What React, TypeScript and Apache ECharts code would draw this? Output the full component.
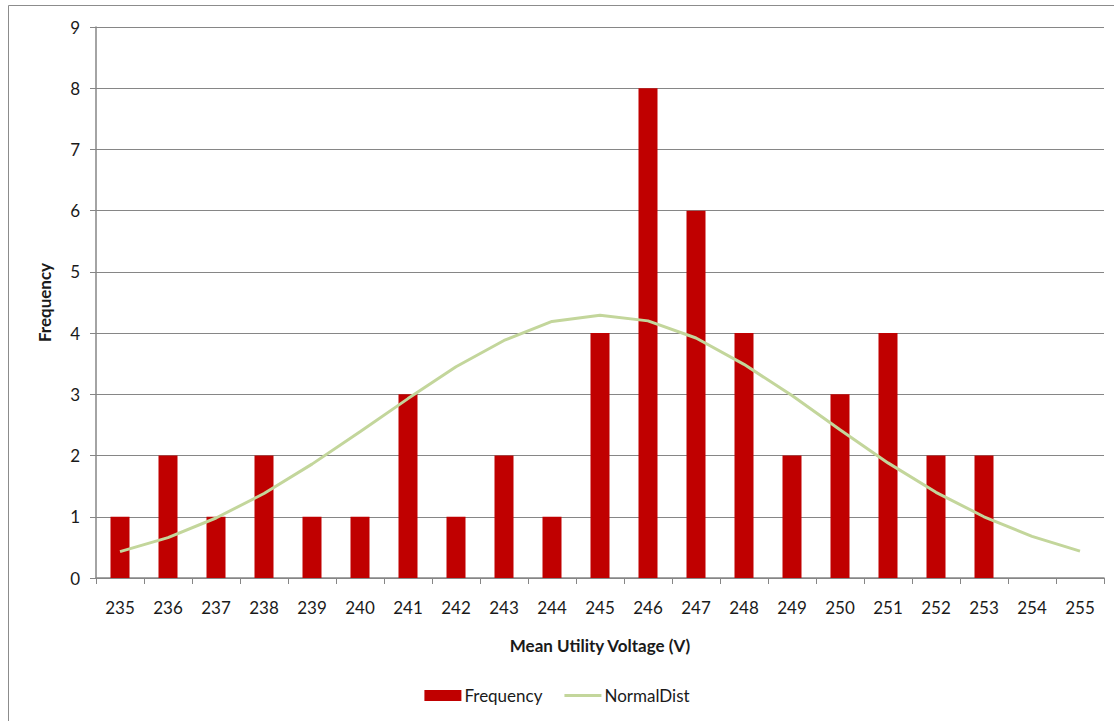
import React, { useEffect, useRef } from "react";
import * as echarts from "echarts";

const categories = ["235","236","237","238","239","240","241","242","243","244","245","246","247","248","249","250","251","252","253","254","255"];
const frequency = [1, 2, 1, 2, 1, 1, 3, 1, 2, 1, 4, 8, 6, 4, 2, 3, 4, 2, 2, 0, 0];
const normalDist = [0.43, 0.66, 0.98, 1.38, 1.86, 2.39, 2.93, 3.45, 3.88, 4.19, 4.29, 4.2, 3.92, 3.49, 2.98, 2.42, 1.88, 1.4, 1.0, 0.68, 0.44];
const yTicks = [0, 1, 2, 3, 4, 5, 6, 7, 8, 9];

const FONT = "Lato, 'Open Sans', sans-serif";

export default function App() {
  const ref = useRef<HTMLDivElement>(null);
  useEffect(() => {
    document.body.style.margin = "0";
    const chart = echarts.init(ref.current!, null, { renderer: "svg" });
    chart.setOption({
      animation: false,
      backgroundColor: "#ffffff",
      textStyle: { fontFamily: FONT },
      graphic: [
        {
          type: "rect",
          shape: { x: 8.5, y: 5.5, width: 1120, height: 730 },
          style: { fill: "none", stroke: "#8c8c8c", lineWidth: 1 },
          silent: true,
        },
      ],
      grid: { left: 96, right: 10, top: 27, bottom: 143 },
      legend: {
        bottom: 12,
        left: "center",
        itemGap: 22,
        itemWidth: 37,
        itemHeight: 11,
        textStyle: { fontSize: 17, color: "#1a1a1a", fontFamily: FONT, padding: [0, 0, 0, -2] },
        data: [
          { name: "Frequency", icon: "rect" },
          { name: "NormalDist", icon: "path://M0,0 L38,0 L38,3 L0,3 Z" },
        ],
      },
      xAxis: {
        type: "category",
        data: categories,
        name: "Mean Utility Voltage (V)",
        nameLocation: "middle",
        nameGap: 59,
        nameTextStyle: { fontSize: 17, fontWeight: "bold", color: "#1a1a1a", fontFamily: FONT },
        axisLine: { lineStyle: { color: "#868686", width: 1.5 } },
        axisTick: { show: true, alignWithLabel: false, length: 6, lineStyle: { color: "#868686" } },
        axisLabel: { fontSize: 17, color: "#1a1a1a", margin: 21, fontFamily: FONT },
      },
      yAxis: {
        type: "value",
        min: 0,
        max: 9,
        interval: 1,
        name: "Frequency",
        nameLocation: "middle",
        nameGap: 43,
        nameRotate: 90,
        nameTextStyle: { fontSize: 17, fontWeight: "bold", color: "#1a1a1a", fontFamily: FONT },
        axisLine: { show: true, lineStyle: { color: "#868686", width: 1.5 } },
        axisTick: { show: true, length: 6, lineStyle: { color: "#868686" } },
        axisLabel: {
          fontSize: 17,
          color: "#1a1a1a",
          margin: 16,
          fontFamily: FONT,
          formatter: (v: number) => (yTicks.includes(v) ? String(v) : ""),
        },
        splitLine: { lineStyle: { color: "#868686", width: 1 } },
      },
      series: [
        {
          name: "Frequency",
          type: "bar",
          data: frequency,
          barWidth: 19,
          itemStyle: { color: "#c00000" },
        },
        {
          name: "NormalDist",
          type: "line",
          data: normalDist,
          symbol: "none",
          lineStyle: { color: "#c3d69b", width: 3 },
          itemStyle: { color: "#c3d69b" },
        },
      ],
    });
    return () => chart.dispose();
  }, []);
  return <div ref={ref} style={{ width: 1114, height: 721 }} />;
}
